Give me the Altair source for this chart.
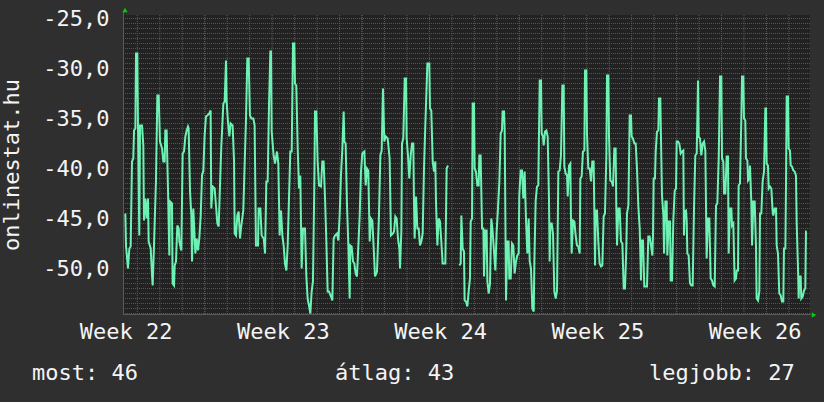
import altair as alt
import pandas as pd
import numpy as np

# ---- data: hours since chart start, value ----
hours_1 = [2.5,3.2,5.3,6.8,8.2,9.6,11.0,11.8,13.2,13.9,15.3,16.0,17.4,18.2,20.3,21.7,22.4,23.9,25.3,26.7,27.4,29.6,31.0,31.7,33.1,35.2,36.7,38.1,39.5,41.7,43.1,44.5,45.2,46.6,48.1,49.5,50.2,52.3,53.0,54.5,55.2,56.6,58.0,59.5,60.2,62.3,63.7,65.2,66.6,68.0,69.4,70.1,71.6,73.0,73.7,75.1,77.3,78.7,80.1,81.5,83.0,84.4,85.8,87.2,88.6,90.1,92.2,93.6,94.3,95.8,97.9,99.3,100.8,102.2,103.6,105.0,107.2,108.6,110.0,110.7,112.1,113.6,115.0,117.1,118.6,119.3,120.7,122.1,123.5,125.0,126.4,128.5,129.9,131.4,132.8,134.2,135.6,137.1,139.2,140.6,142.0,144.2,144.9]
values_1 = [-44.5,-47.7,-50.0,-48.0,-47.8,-39.3,-39.0,-36.2,-36.0,-28.5,-28.5,-35.7,-46.7,-35.7,-35.7,-37.7,-45.2,-43.0,-45.0,-43.0,-47.3,-48.0,-50.7,-51.7,-47.7,-41.3,-32.7,-32.7,-37.3,-38.0,-39.3,-39.3,-36.2,-36.2,-42.3,-48.7,-43.3,-43.5,-51.5,-51.7,-49.7,-49.3,-45.7,-46.0,-47.3,-48.2,-38.5,-38.3,-36.8,-36.2,-35.8,-36.0,-42.3,-44.7,-49.3,-44.0,-48.5,-47.0,-48.2,-47.0,-44.7,-40.7,-40.2,-36.7,-34.8,-34.7,-34.5,-34.2,-44.0,-41.8,-42.0,-43.7,-45.5,-45.8,-41.7,-37.8,-33.5,-33.3,-29.2,-33.3,-35.3,-36.8,-35.5,-35.7,-39.3,-46.5,-46.7,-44.7,-44.3,-47.0,-45.7,-44.2,-39.7,-35.0,-29.0,-29.0,-34.7,-35.0,-35.0,-35.7,-47.7,-47.7,-44.0]

hours_2 = [146.7,148.1,150.3,151.7,153.1,154.5,156.0,157.4,158.1,158.8,160.9,162.4,164.5,165.9,167.3,168.8,170.2,171.6,173.0,174.5,175.9,177.3,178.7,180.2,181.6,183.0,183.7,185.1,186.6,188.0,189.4,190.8,192.3,194.4,195.8,197.2,198.7,200.1,201.5,202.9,204.4,205.1,206.5,207.9,209.4,211.5,212.9,214.3,215.8,217.2,218.6,220.0,222.2,223.6,225.0,226.4,228.6,230.0,231.4,232.8,234.3,235.7,236.4,237.8,239.3,240.7,242.1,242.8,244.2,245.7,247.1,248.5,249.9,251.4,252.8,254.2,255.6,257.8,259.2,260.6,262.0,263.5,264.9,266.3,267.7,269.2,271.3,273.4,274.9,276.3,277.7,279.1,280.6,282.7,284.8,286.2,288.4]
values_2 = [-44.0,-46.7,-47.0,-48.5,-41.3,-41.3,-33.5,-28.3,-28.3,-36.3,-38.7,-39.5,-38.3,-39.5,-46.7,-44.2,-46.7,-47.7,-49.5,-50.2,-47.7,-43.0,-38.3,-38.3,-27.5,-27.5,-31.5,-31.7,-38.0,-42.0,-40.7,-50.0,-46.0,-46.0,-50.7,-53.0,-53.7,-54.5,-52.3,-51.3,-41.3,-34.3,-34.3,-39.3,-41.7,-41.8,-39.3,-39.3,-43.0,-47.3,-52.3,-52.3,-52.8,-53.2,-47.0,-46.7,-46.5,-47.2,-44.7,-40.7,-38.0,-34.3,-37.3,-37.5,-43.8,-47.7,-53.0,-47.7,-47.8,-49.3,-49.5,-50.5,-50.8,-47.7,-44.7,-40.3,-38.5,-38.3,-41.7,-40.0,-40.2,-47.3,-45.0,-45.2,-47.8,-50.8,-50.3,-44.7,-38.7,-38.2,-32.0,-37.3,-36.8,-37.0,-39.0,-46.7,-46.5]

hours_3 = [289.5,290.9,292.3,293.7,295.2,295.9,297.3,298.0,299.4,300.9,302.3,303.0,304.4,305.8,307.3,308.7,310.1,310.8,311.5,313.0,314.4,315.8,317.2,318.7,320.1,321.5,322.9,325.1,327.2,327.9,329.3,330.8,332.2,333.6,334.3,335.8,337.2,338.6,340.0,341.4,344.3,345.7,347.1,352.0,359.2,360.7,361.4,362.8,364.2,364.9,366.4,367.8,369.2,370.6,371.4,372.8,373.5,374.9,375.6,377.0,378.5,379.9,380.6,382.0,383.5,384.9,385.6,387.0,388.4,389.2,390.6,392.0,393.4,394.8,396.3,397.7,399.1,400.5,402.0,403.4,404.8,405.5,407.0,407.7,408.4,409.1,410.5,411.9,412.6,414.1,415.5,416.9,418.3,419.8,421.2,422.6,423.3,424.8,426.2,427.6,429.0,430.4,431.9,433.3]
values_3 = [-46.3,-44.8,-45.0,-47.0,-48.0,-50.0,-46.3,-37.5,-37.0,-31.0,-31.0,-37.0,-38.7,-41.0,-38.7,-37.5,-37.5,-43.3,-47.0,-42.8,-46.0,-46.0,-47.7,-47.3,-46.5,-40.0,-35.7,-29.5,-29.5,-34.0,-34.2,-39.3,-40.3,-39.3,-43.3,-47.7,-45.0,-45.3,-47.3,-49.5,-49.5,-40.0,-39.7,None,-49.7,-49.5,-44.7,-48.0,-48.3,-53.2,-53.3,-53.8,-52.3,-51.0,-45.3,-45.0,-33.5,-33.5,-40.0,-40.3,-41.7,-41.7,-38.7,-38.7,-46.0,-46.0,-50.8,-46.2,-46.2,-51.3,-52.5,-51.5,-45.0,-46.3,-48.3,-50.2,-46.3,-44.0,-41.3,-36.5,-36.2,-34.3,-34.3,-36.3,-44.7,-53.2,-47.3,-47.3,-51.0,-51.0,-47.5,-47.7,-50.5,-49.3,-48.7,-48.5,-42.7,-40.2,-40.2,-43.0,-40.3,-45.0,-48.5,-45.0]

hours_4 = [434.4,435.8,437.2,438.7,439.4,440.8,442.2,443.6,445.1,446.5,447.2,448.6,449.3,450.8,452.2,453.6,455.0,455.7,456.5,457.9,459.3,460.7,462.2,463.6,465.0,466.4,467.8,469.3,470.7,471.4,472.8,474.3,475.0,476.4,477.8,478.5,479.2,480.7,482.1,483.5,484.9,486.4,487.8,488.5,489.9,491.3,492.8,493.5,494.9,495.6,497.0,498.5,499.9,501.3,502.7,503.4,504.2,504.9,506.3,507.7,509.1,510.6,512.0,513.4,514.8,516.3,517.0,518.4,519.1,520.5,522.0,523.4,524.8,526.2,526.9,527.7,529.1,530.5,531.9,533.4,534.8,536.2,537.6,538.3,539.8,540.5,541.2,542.6,543.3,544.7,546.2,547.6,549.0,550.4,551.9,553.3,554.0,555.4,556.8,559.7,561.1,562.5,564.0,565.4,566.1,566.8,568.2,569.0,570.4,571.8,572.5,573.9]
values_4 = [-49.3,-50.0,-54.0,-54.3,-49.3,-43.2,-41.8,-41.7,-31.2,-31.2,-36.5,-36.8,-37.7,-36.3,-36.2,-36.8,-43.0,-49.3,-45.5,-45.5,-46.5,-52.3,-53.0,-52.2,-40.3,-40.2,-38.7,-31.7,-31.7,-39.8,-40.5,-40.7,-42.8,-39.7,-39.5,-45.0,-48.5,-45.2,-45.3,-46.7,-47.7,-47.8,-48.5,-41.0,-40.8,-38.3,-38.2,-30.2,-30.2,-36.5,-40.0,-40.0,-41.3,-39.3,-39.3,-44.0,-49.7,-44.2,-44.2,-47.3,-49.5,-49.8,-49.7,-44.8,-44.5,-38.7,-30.7,-30.7,-36.7,-41.2,-41.3,-41.8,-38.0,-38.0,-43.8,-47.7,-44.0,-44.0,-47.3,-47.5,-52.0,-52.0,-48.0,-44.5,-43.7,-39.3,-34.7,-34.7,-36.8,-37.0,-37.5,-37.5,-40.0,-43.7,-46.0,-51.2,-47.2,-47.2,-51.8,-51.8,-46.8,-46.8,-47.7,-48.7,-46.7,-41.0,-41.0,-38.3,-36.3,-36.2,-33.0,-33.0]

hours_5 = [575.7,577.2,577.9,579.3,580.7,581.4,582.9,584.3,585.0,586.4,587.8,589.3,590.7,591.4,592.8,594.2,595.7,597.1,598.5,599.2,599.9,601.4,602.1,602.8,604.2,605.6,607.1,608.5,609.9,611.3,612.8,614.2,614.9,616.3,617.7,619.2,620.6,622.0,623.4,624.9,626.3,627.7,629.1,630.6,632.0,633.4,634.8,636.3,637.7,639.1,639.8,641.2,642.0,643.4,644.8,646.2,646.9,648.4,649.8,650.5,651.9,653.3,654.8,655.5,656.9,657.6,659.0,660.5,661.2,662.6,663.3,664.7,665.4,666.9,667.6,669.0,669.7,671.1,671.9,673.3,674.7,676.1,676.8,678.3,679.7,680.4,681.8,683.2,684.7,686.1,686.8,687.5,688.9,689.7,691.1,692.5,693.9,694.6,696.1,697.5,698.2,699.6,701.0,702.5,703.9,705.3,706.0,707.5,708.2,708.9,710.3,711.0,712.4,713.2,714.6,716.0,717.4,718.8,719.6,721.0,721.7,722.4,723.8,724.5,726.0,727.4,728.8,729.5,730.2]
values_5 = [-42.7,-44.7,-48.5,-43.3,-43.3,-48.7,-45.3,-45.3,-51.2,-51.2,-45.2,-42.2,-42.0,-37.3,-37.3,-37.5,-38.5,-38.3,-38.2,-46.7,-44.3,-44.2,-45.3,-48.5,-48.7,-51.5,-51.7,-51.7,-44.0,-38.7,-38.5,-31.2,-36.8,-37.0,-38.7,-37.5,-37.3,-38.2,-49.0,-45.0,-45.0,-51.0,-51.2,-51.7,-51.8,-43.7,-43.5,-39.0,-30.8,-30.8,-39.0,-39.3,-42.5,-42.5,-38.8,-38.8,-48.5,-44.0,-44.0,-45.7,-45.5,-51.2,-51.0,-50.2,-50.2,-41.7,-41.5,-34.8,-30.8,-30.8,-35.0,-35.2,-39.0,-39.2,-41.2,-41.0,-39.7,-43.3,-47.7,-43.3,-43.3,-47.7,-53.0,-53.2,-52.3,-44.5,-44.5,-41.3,-40.3,-34.0,-34.0,-39.5,-39.7,-42.0,-41.8,-42.0,-44.3,-44.7,-44.0,-44.0,-47.7,-48.5,-52.5,-52.7,-53.3,-53.3,-48.0,-48.0,-41.3,-32.8,-32.8,-38.0,-38.2,-39.7,-39.8,-40.2,-40.3,-40.7,-45.5,-50.0,-53.0,-50.8,-50.8,-53.0,-52.8,-52.2,-52.0,-46.3,-46.3]

y_label_values = [-50, -45, -40, -35, -30, -25]
week_labels = ["Week 22", "Week 23", "Week 24", "Week 25", "Week 26"]
week_label_hours = [3.3, 171.3, 339.3, 507.3, 675.3]
week_line_hours = [87.3, 255.3, 423.3, 591.3]
first_day_line_hour = 15.3
title_text = "onlinestat.hu"
stat_labels = ["most: 46", "átlag: 43", "legjobb: 27"]

X_DOMAIN = [0, 733.8]
Y_DOMAIN = [-54.65, -24.65]

hours = hours_1 + hours_2 + hours_3 + hours_4 + hours_5
values = values_1 + values_2 + values_3 + values_4 + values_5
assert len(hours) == len(values)
series = pd.DataFrame({"h": hours, "v": values})

FONT = "DejaVu Sans Mono"
TXT = "#f4f4f4"
xs = alt.Scale(domain=X_DOMAIN, nice=False, zero=False)
ys = alt.Scale(domain=Y_DOMAIN, nice=False, zero=False)

y_axis = alt.Axis(
    values=y_label_values, labelExpr="datum.value + ',0'", ticks=False,
    domain=False, grid=False, labelFont=FONT, labelFontSize=22,
    labelColor=TXT, labelPadding=14, title=None, labelOverlap=False)

day_lines = [first_day_line_hour + 24 * k for k in range(40)
             if first_day_line_hour + 24 * k < X_DOMAIN[1]]
minor_y = [float(v) for v in np.arange(-54.5, -24.6, 0.5) if abs(v % 5) > 1e-6]
major_y = [float(v) for v in range(-50, -24, 5)]

one = pd.DataFrame({"a": [0]})

minor_h = alt.Chart(pd.DataFrame({"gy": minor_y})).mark_rule(
    color="#555555", strokeWidth=1, strokeDash=[1, 1]
).encode(y=alt.Y("gy:Q", scale=ys, axis=y_axis))

minor_v = alt.Chart(pd.DataFrame({"gx": day_lines})).mark_rule(
    color="#5a5a5a", strokeWidth=1, strokeDash=[1, 1]
).encode(x=alt.X("gx:Q", scale=xs, axis=None))

major_h = alt.Chart(pd.DataFrame({"gy": major_y})).mark_rule(
    color="#9a3c3c", strokeWidth=1, strokeDash=[1, 1]
).encode(y=alt.Y("gy:Q", scale=ys, axis=y_axis))

major_v = alt.Chart(pd.DataFrame({"gx": week_line_hours})).mark_rule(
    color="#9a3c3c", strokeWidth=1, strokeDash=[1, 1]
).encode(x=alt.X("gx:Q", scale=xs, axis=None))

line = alt.Chart(series).mark_line(
    color="#6ef2b4", strokeWidth=2, invalid="break-paths-show-domains"
).encode(
    x=alt.X("h:Q", scale=xs, axis=None),
    y=alt.Y("v:Q", scale=ys, axis=y_axis),
)

axis_left = alt.Chart(one).mark_rule(color="#5a5a5a", strokeWidth=1).encode(
    x=alt.value(0.5), y=alt.value(-4), y2=alt.value(300))
axis_bottom = alt.Chart(one).mark_rule(color="#5a5a5a", strokeWidth=1).encode(
    x=alt.value(0), x2=alt.value(688), y=alt.value(299.5))
arrow_up = alt.Chart(one).mark_point(
    shape="triangle-up", filled=True, size=28, color="#00d000", opacity=1
).encode(x=alt.value(2), y=alt.value(-5))
arrow_right = alt.Chart(one).mark_point(
    shape="triangle-right", filled=True, size=28, color="#00d000", opacity=1
).encode(x=alt.value(691), y=alt.value(300))

week_text = alt.Chart(pd.DataFrame({"h": week_label_hours, "t": week_labels})).mark_text(
    font=FONT, fontSize=22, color=TXT, align="center", baseline="alphabetic"
).encode(x=alt.X("h:Q", scale=xs, axis=None), y=alt.value(324), text="t:N")

title = alt.Chart(one).mark_text(
    font=FONT, fontSize=22, color=TXT, angle=270, align="center", baseline="alphabetic"
).encode(x=alt.value(-104), y=alt.value(150), text=alt.value(title_text))

stat_x = [-91, 212, 526]
stats = [
    alt.Chart(one).mark_text(
        font=FONT, fontSize=22, color=TXT, align="left", baseline="alphabetic"
    ).encode(x=alt.value(px), y=alt.value(365), text=alt.value(lbl))
    for px, lbl in zip(stat_x, stat_labels)
]

chart = alt.layer(
    minor_h, minor_v, major_h, major_v, line, axis_left, axis_bottom,
    arrow_up, arrow_right, week_text, title, *stats
).properties(
    width=687, height=300,
    padding={"left": 123, "top": 15, "right": 14, "bottom": 87},
    autosize=alt.AutoSizeParams(type="none"),
    background="#2f2f2f",
).configure_view(fill="#222222", stroke=None)

chart.save("out.html", embed_options={"renderer": "svg", "actions": False})
